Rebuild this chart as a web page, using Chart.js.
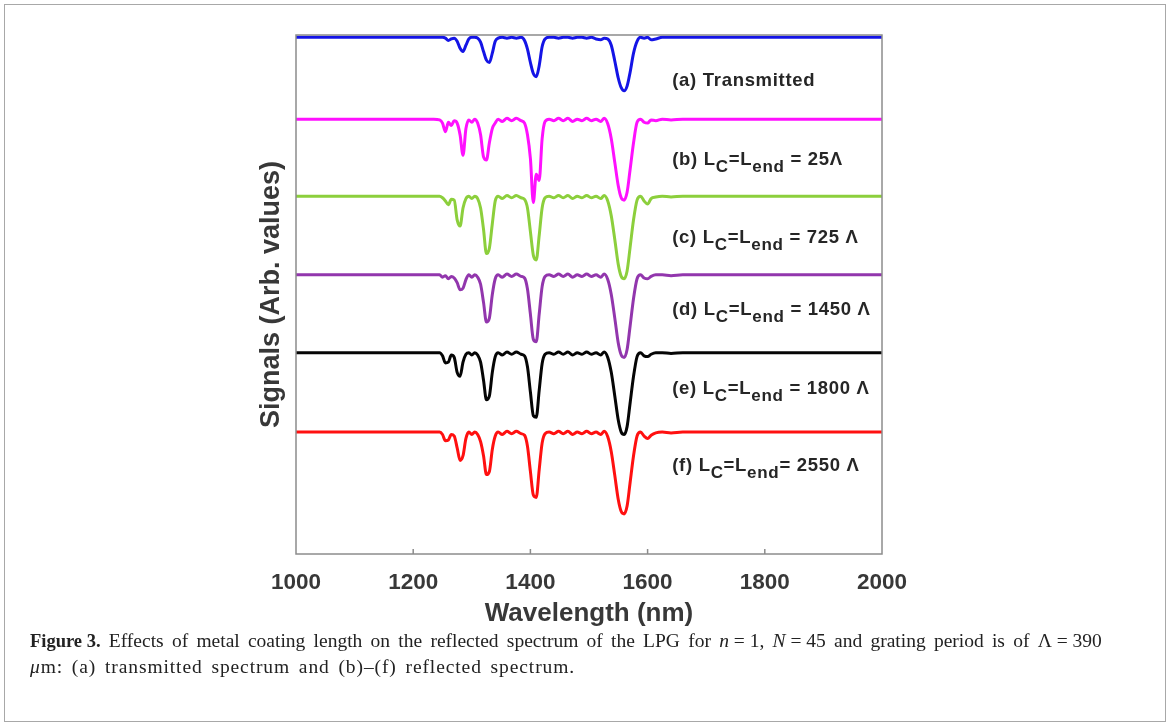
<!DOCTYPE html>
<html>
<head>
<meta charset="utf-8">
<script src="https://cdn.jsdelivr.net/npm/chart.js@4.4.1/dist/chart.umd.min.js"></script>
<style>
  body { margin: 0; background: #fff; }
  #frame { position: absolute; left: 4px; top: 4px; width: 1160px; height: 716px; border: 1px solid #a8a8a8; }
  #wrap { position: absolute; left: 0; top: 0; width: 1170px; height: 640px; }
  #caption { position: absolute; left: 30px; top: 628px; width: 1072px; font-family: "Liberation Serif", serif; font-size: 19.5px; line-height: 25px; color: #222; }
  #caption .l1 { white-space: nowrap; display: flex; justify-content: space-between; }
  #caption .l2 { letter-spacing: 0.9px; word-spacing: 3px; }
  #caption b { font-weight: bold; font-size: 18.5px; }
  #caption i { font-style: italic; }
</style>
</head>
<body>
<div id="frame"></div>
<div id="wrap"><canvas id="chart"></canvas></div>
<div id="caption">
  <div class="l1"><span><b>Figure 3.</b></span><span>Effects</span><span>of</span><span>metal</span><span>coating</span><span>length</span><span>on</span><span>the</span><span>reflected</span><span>spectrum</span><span>of</span><span>the</span><span>LPG</span><span>for</span><span><i>n</i>&nbsp;=&nbsp;1,</span><span><i>N</i>&nbsp;=&nbsp;45</span><span>and</span><span>grating</span><span>period</span><span>is</span><span>of</span><span>&Lambda;&nbsp;=&nbsp;390</span></div>
  <div class="l2"><i>&mu;</i>m: (a) transmitted spectrum and (b)&ndash;(f) reflected spectrum.</div>
</div>
<script>
// wavelength grid (nm)
const wavelengthNm = [1000, 1235, 1245, 1250, 1255, 1260, 1265, 1270, 1275, 1280,
  1285, 1290, 1295, 1300, 1305, 1310, 1315, 1320, 1325, 1330,
  1335, 1340, 1345, 1352, 1360, 1368, 1376, 1384, 1390, 1395,
  1400, 1405, 1410, 1415, 1420, 1425, 1432, 1440, 1448, 1456,
  1464, 1472, 1480, 1488, 1496, 1504, 1512, 1520, 1526, 1532,
  1538, 1544, 1550, 1555, 1560, 1565, 1570, 1576, 1582, 1588,
  1594, 1600, 1606, 1614, 1625, 1640, 1660, 1700, 1800, 2000];

// (a) transmitted
const signalA = [6.57, 6.57, 6.57, 6.57, 6.56, 6.53, 6.55, 6.56, 6.52, 6.43,
  6.39, 6.47, 6.55, 6.57, 6.57, 6.56, 6.51, 6.39, 6.28, 6.25,
  6.37, 6.52, 6.56, 6.57, 6.56, 6.57, 6.56, 6.57, 6.53, 6.42,
  6.25, 6.11, 6.07, 6.21, 6.45, 6.55, 6.57, 6.57, 6.56, 6.57,
  6.57, 6.56, 6.57, 6.57, 6.56, 6.57, 6.55, 6.54, 6.56, 6.55,
  6.47, 6.27, 6.05, 5.93, 5.89, 5.95, 6.12, 6.37, 6.52, 6.57,
  6.56, 6.57, 6.54, 6.55, 6.57, 6.57, 6.57, 6.57, 6.57, 6.57];
// (b) Lc = Lend = 25
const signalB = [5.53, 5.53, 5.52, 5.48, 5.37, 5.49, 5.45, 5.51, 5.48, 5.33,
  5.07, 5.41, 5.52, 5.49, 5.53, 5.48, 5.33, 5.05, 5.01, 5.23,
  5.41, 5.48, 5.53, 5.50, 5.54, 5.51, 5.54, 5.51, 5.48, 5.33,
  5.03, 4.47, 4.83, 4.75, 5.28, 5.50, 5.53, 5.51, 5.54, 5.51,
  5.54, 5.50, 5.53, 5.51, 5.54, 5.51, 5.53, 5.50, 5.54, 5.47,
  5.28, 4.98, 4.68, 4.53, 4.50, 4.60, 4.88, 5.23, 5.49, 5.53,
  5.49, 5.48, 5.52, 5.51, 5.53, 5.52, 5.53, 5.53, 5.53, 5.53];
// (c) 725
const signalC = [4.55, 4.55, 4.55, 4.53, 4.49, 4.44, 4.51, 4.50, 4.25, 4.17,
  4.40, 4.52, 4.55, 4.52, 4.55, 4.52, 4.40, 4.13, 3.82, 3.89,
  4.20, 4.49, 4.55, 4.52, 4.56, 4.53, 4.56, 4.53, 4.51, 4.40,
  4.10, 3.80, 3.74, 4.05, 4.40, 4.53, 4.55, 4.53, 4.56, 4.53,
  4.56, 4.52, 4.55, 4.53, 4.56, 4.53, 4.55, 4.52, 4.56, 4.49,
  4.30, 4.00, 3.68, 3.53, 3.50, 3.60, 3.89, 4.25, 4.50, 4.55,
  4.49, 4.45, 4.52, 4.54, 4.55, 4.54, 4.55, 4.55, 4.55, 4.55];
// (d) 1450
const signalD = [3.55, 3.55, 3.55, 3.52, 3.54, 3.50, 3.53, 3.51, 3.45, 3.36,
  3.38, 3.49, 3.55, 3.52, 3.55, 3.52, 3.43, 3.20, 2.95, 3.00,
  3.30, 3.50, 3.55, 3.52, 3.56, 3.53, 3.56, 3.53, 3.51, 3.37,
  3.05, 2.73, 2.70, 3.05, 3.40, 3.53, 3.55, 3.53, 3.56, 3.53,
  3.56, 3.52, 3.55, 3.53, 3.56, 3.53, 3.55, 3.52, 3.56, 3.49,
  3.30, 3.00, 2.68, 2.53, 2.50, 2.60, 2.89, 3.25, 3.50, 3.55,
  3.51, 3.50, 3.53, 3.55, 3.55, 3.54, 3.55, 3.55, 3.55, 3.55];
// (e) 1800
const signalE = [2.56, 2.56, 2.56, 2.52, 2.43, 2.44, 2.53, 2.50, 2.31, 2.26,
  2.44, 2.54, 2.56, 2.53, 2.56, 2.53, 2.44, 2.21, 1.96, 2.01,
  2.31, 2.51, 2.56, 2.53, 2.57, 2.54, 2.57, 2.54, 2.52, 2.38,
  2.06, 1.76, 1.74, 2.08, 2.42, 2.54, 2.56, 2.54, 2.57, 2.54,
  2.57, 2.53, 2.56, 2.54, 2.57, 2.54, 2.56, 2.53, 2.57, 2.50,
  2.31, 2.01, 1.70, 1.55, 1.52, 1.62, 1.91, 2.26, 2.51, 2.56,
  2.52, 2.51, 2.54, 2.56, 2.56, 2.55, 2.56, 2.56, 2.56, 2.56];
// (f) 2550
const signalF = [1.55, 1.55, 1.55, 1.52, 1.44, 1.45, 1.52, 1.50, 1.35, 1.19,
  1.25, 1.47, 1.55, 1.52, 1.55, 1.52, 1.43, 1.25, 1.01, 1.05,
  1.33, 1.50, 1.55, 1.52, 1.56, 1.53, 1.56, 1.53, 1.51, 1.37,
  1.05, 0.75, 0.72, 1.07, 1.41, 1.53, 1.55, 1.53, 1.56, 1.53,
  1.56, 1.52, 1.55, 1.53, 1.56, 1.53, 1.55, 1.52, 1.56, 1.49,
  1.30, 1.00, 0.69, 0.54, 0.51, 0.61, 0.90, 1.25, 1.50, 1.55,
  1.50, 1.47, 1.51, 1.54, 1.55, 1.54, 1.55, 1.55, 1.55, 1.55];

const xTicks = [1000, 1200, 1400, 1600, 1800, 2000];

// curve labels: text pieces, odd entries are subscripts
const curveLabels = [
  ['(a) Transmitted'],
  ['(b) L', 'C', '=L', 'end', ' = 25\u039B'],
  ['(c) L', 'C', '=L', 'end', ' = 725 \u039B'],
  ['(d) L', 'C', '=L', 'end', ' = 1450 \u039B'],
  ['(e) L', 'C', '=L', 'end', ' = 1800 \u039B'],
  ['(f) L', 'C', '=L', 'end', '= 2550 \u039B']
];
const labelY = [6.01, 5.01, 4.02, 3.10, 2.10, 1.12];

const colors = ['#1414e6', '#ff10ff', '#8ccf3c', '#9236ad', '#050505', '#ff1010'];
const series = [signalA, signalB, signalC, signalD, signalE, signalF];

const boxPlugin = {
  id: 'box',
  afterDraw(chart) {
    const ctx = chart.ctx;
    const a = chart.chartArea;
    const xs = chart.scales.x;
    ctx.save();
    ctx.strokeStyle = '#8c8c8c';
    ctx.lineWidth = 1.5;
    ctx.strokeRect(a.left, a.top, a.right - a.left, a.bottom - a.top);
    ctx.beginPath();
    xTicks.slice(1, -1).forEach(v => {
      const px = xs.getPixelForValue(v);
      ctx.moveTo(px, a.bottom);
      ctx.lineTo(px, a.bottom - 5);
    });
    ctx.stroke();

    // curve labels
    const ys = chart.scales.y;
    ctx.fillStyle = '#262626';
    ctx.textBaseline = 'middle';
    ctx.letterSpacing = '0.7px';
    curveLabels.forEach((parts, i) => {
      let x = xs.getPixelForValue(1642);
      const y = ys.getPixelForValue(labelY[i]);
      parts.forEach((p, k) => {
        const sub = k % 2 === 1;
        ctx.font = sub ? 'bold 17px "Liberation Sans", Arial' : 'bold 18.5px "Liberation Sans", Arial';
        ctx.fillText(p, x, sub ? y + 7 : y);
        x += ctx.measureText(p).width;
      });
    });
    ctx.restore();
  }
};

new Chart(document.getElementById('chart'), {
  type: 'line',
  data: {
    datasets: series.map((s, i) => ({
      data: s.map((v, k) => ({ x: wavelengthNm[k], y: v })),
      borderColor: colors[i],
      borderWidth: 3,
      pointRadius: 0,
      cubicInterpolationMode: 'monotone',
      clip: false
    }))
  },
  options: {
    animation: false,
    responsive: true,
    maintainAspectRatio: false,
    layout: { padding: { left: 252, top: 35, right: 288, bottom: 0 } },
    plugins: { legend: { display: false }, tooltip: { enabled: false } },
    scales: {
      x: {
        type: 'linear',
        min: 1000,
        max: 2000,
        afterFit: s => { s.height = 86; },
        afterBuildTicks: s => { s.ticks = xTicks.map(v => ({ value: v })); },
        grid: { display: false, drawTicks: false },
        border: { display: false },
        ticks: {
          padding: 15,
          color: '#383838',
          callback: v => String(v),
          font: { family: '"Liberation Sans", Arial', size: 22.5, weight: 'bold' }
        },
        title: {
          display: true,
          text: 'Wavelength (nm)',
          color: '#383838',
          padding: { top: 0, bottom: 11 },
          font: { family: '"Liberation Sans", Arial', size: 26, weight: 'bold' }
        }
      },
      y: {
        min: 0,
        max: 6.6,
        afterFit: s => { s.width = 44; },
        grid: { display: false, drawTicks: false },
        border: { display: false },
        ticks: { display: false },
        title: {
          display: true,
          text: 'Signals (Arb. values)',
          color: '#383838',
          padding: { top: 3, bottom: 0 },
          font: { family: '"Liberation Sans", Arial', size: 27, weight: 'bold' }
        }
      }
    }
  },
  plugins: [boxPlugin]
});
</script>
</body>
</html>
